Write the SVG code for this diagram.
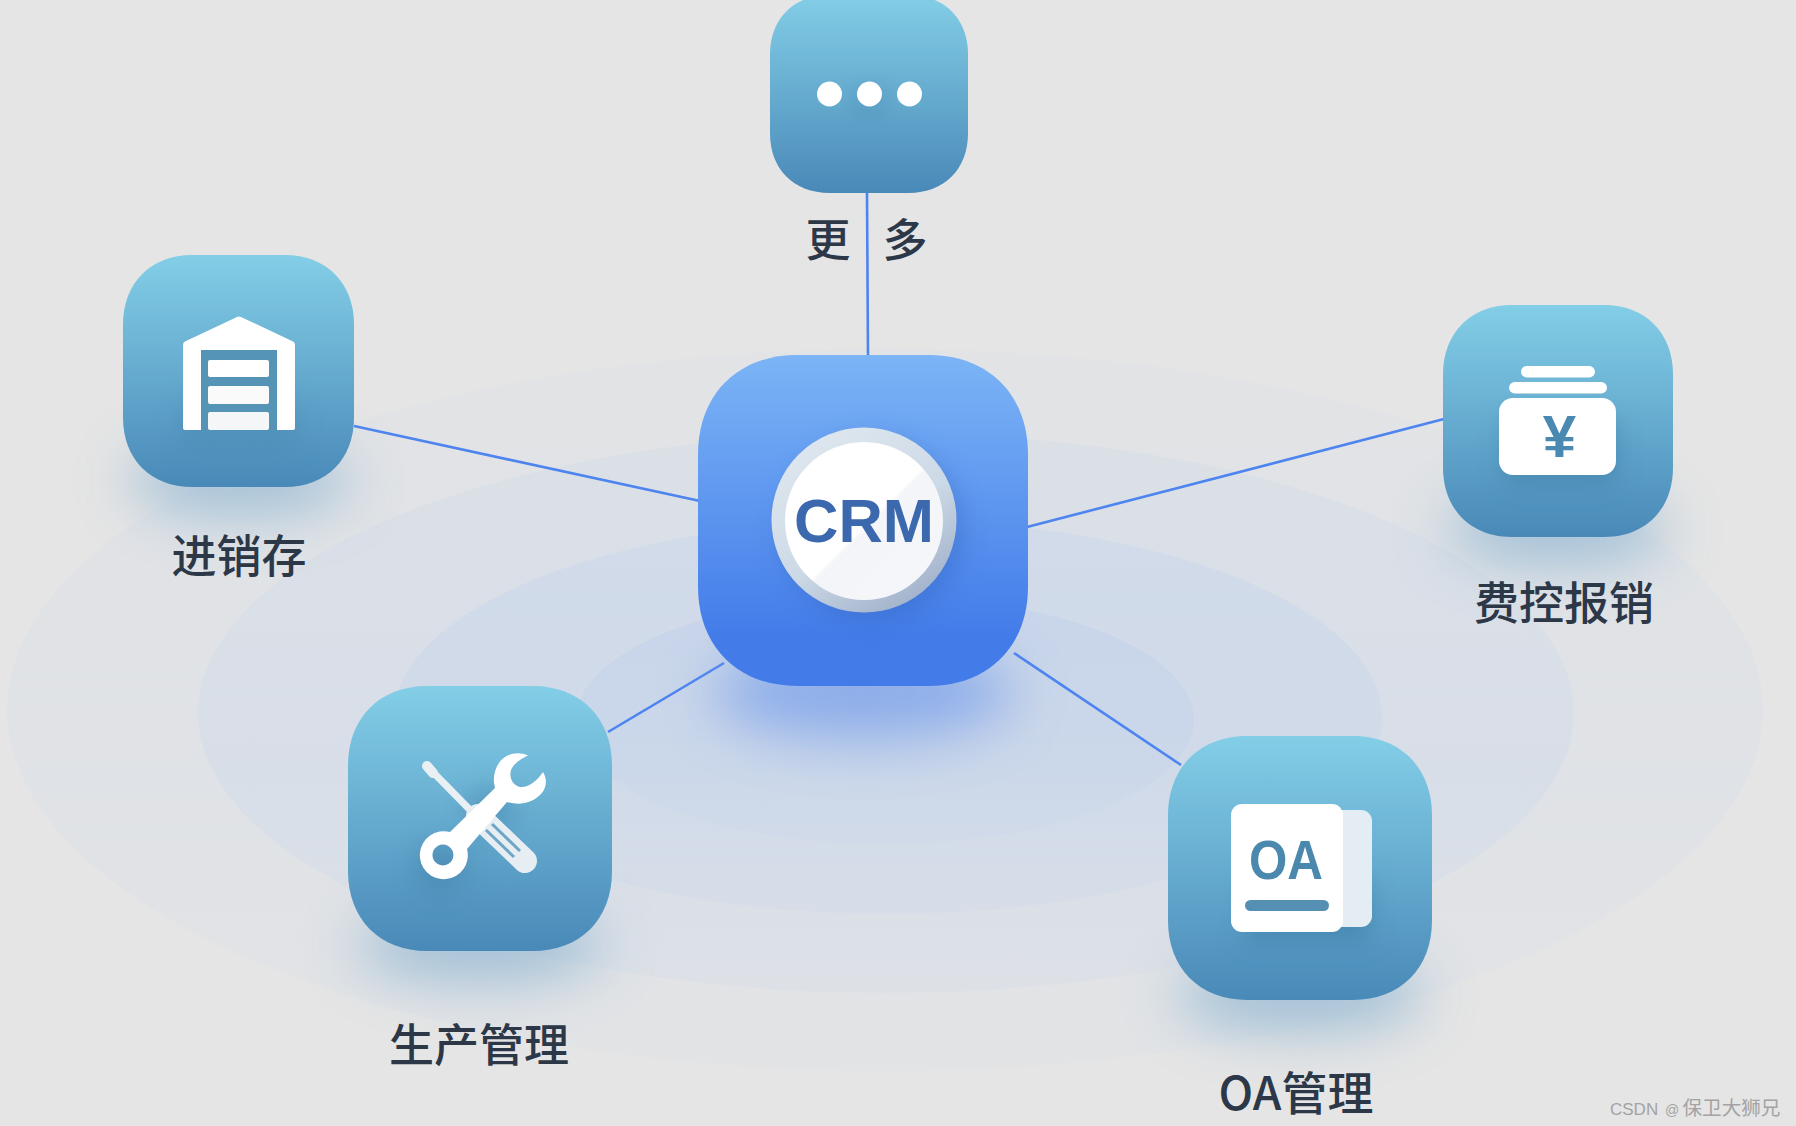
<svg xmlns="http://www.w3.org/2000/svg" xmlns:xlink="http://www.w3.org/1999/xlink" width="1796" height="1126" viewBox="0 0 1796 1126">
<style>
.lbl{font-family:"Noto Sans CJK SC","Noto Sans",sans-serif;font-size:45px;font-weight:500;fill:#2c3747;text-anchor:middle}
.ico{fill:#fff}
.ln{stroke:#4d84ef;stroke-width:2.6;fill:none}
.bd{font-family:"Liberation Sans",Arial,sans-serif;font-weight:700}
.wm{fill:#a3a3a3;font-family:"Liberation Sans","Noto Sans CJK SC",sans-serif}
</style>
<defs>
<path id="sq" d="M30,0 L70,0 C88,0 100,12 100,30 L100,70 C100,88 88,100 70,100 L30,100 C12,100 0,88 0,70 L0,30 C0,12 12,0 30,0 Z"/>
<linearGradient id="tile" x1="0" y1="0" x2="0" y2="1"><stop offset="0" stop-color="#83cee7"/><stop offset="1" stop-color="#4989b8"/></linearGradient>
<linearGradient id="core" x1="0" y1="0" x2="0" y2="1"><stop offset="0" stop-color="#7cb4f6"/><stop offset="0.85" stop-color="#437ce9"/><stop offset="1" stop-color="#437ce9"/></linearGradient>
<linearGradient id="rim" x1="0.2" y1="0.1" x2="0.75" y2="0.95"><stop offset="0" stop-color="#dde6ee"/><stop offset="0.55" stop-color="#ccd9e6"/><stop offset="1" stop-color="#a3b3cc"/></linearGradient>
<linearGradient id="face" x1="0.15" y1="0.15" x2="0.85" y2="0.85"><stop offset="0.52" stop-color="#fff"/><stop offset="0.55" stop-color="#f4f5f9"/><stop offset="1" stop-color="#f5f6f9"/></linearGradient>
<linearGradient id="r1" x1="0" y1="0" x2="0" y2="1"><stop offset="0" stop-color="#b9cfee" stop-opacity="0.08"/><stop offset="0.6" stop-color="#b9cfee" stop-opacity="0.13"/><stop offset="1" stop-color="#b9cfee" stop-opacity="0.07"/></linearGradient>
<linearGradient id="r2" x1="0" y1="0" x2="0" y2="1"><stop offset="0" stop-color="#b9cfee" stop-opacity="0.14"/><stop offset="0.6" stop-color="#b9cfee" stop-opacity="0.2"/><stop offset="1" stop-color="#b9cfee" stop-opacity="0.1"/></linearGradient>
<linearGradient id="r3" x1="0" y1="0" x2="0" y2="1"><stop offset="0" stop-color="#b4cbee" stop-opacity="0.24"/><stop offset="0.6" stop-color="#b4cbee" stop-opacity="0.22"/><stop offset="1" stop-color="#b4cbee" stop-opacity="0.12"/></linearGradient>
<linearGradient id="r4" x1="0" y1="0" x2="0" y2="1"><stop offset="0" stop-color="#aec6ec" stop-opacity="0.26"/><stop offset="0.6" stop-color="#aec6ec" stop-opacity="0.16"/><stop offset="1" stop-color="#aec6ec" stop-opacity="0.07"/></linearGradient>
<filter id="b30" x="-60%" y="-100%" width="220%" height="300%"><feGaussianBlur stdDeviation="28"/></filter>
<filter id="b12" x="-50%" y="-50%" width="200%" height="200%"><feGaussianBlur stdDeviation="12"/></filter>
</defs>
<rect width="1796" height="1126" fill="#e5e5e5"/>
<g id="rings">
<ellipse cx="885" cy="710" rx="878" ry="361" fill="url(#r1)"/>
<ellipse cx="886" cy="713" rx="688" ry="280" fill="url(#r2)"/>
<ellipse cx="888" cy="717" rx="494" ry="197" fill="url(#r3)"/>
<ellipse cx="885" cy="720" rx="309" ry="124" fill="url(#r4)"/>
</g>
<g id="connectors">
<line class="ln" x1="867" y1="193" x2="868" y2="357"/>
<line class="ln" x1="354" y1="426" x2="700" y2="501"/>
<line class="ln" x1="1027" y1="527" x2="1444" y2="419"/>
<line class="ln" x1="1014" y1="653" x2="1181" y2="765"/>
<line class="ln" x1="608" y1="732" x2="724" y2="663"/>
</g>
<g id="node-crm">
<ellipse cx="863" cy="692" rx="150" ry="46" fill="#6f9aea" opacity="0.7" filter="url(#b30)"/>
<use xlink:href="#sq" href="#sq" transform="translate(698 355) scale(3.3 3.31)" fill="url(#core)"/>
<circle cx="872" cy="530" r="92" fill="#2f5fb8" opacity="0.35" filter="url(#b12)"/>
<circle cx="864" cy="520" r="92.500" fill="url(#rim)"/>
<circle cx="864" cy="521" r="79" fill="url(#face)"/>
<text class="bd" x="864" y="542" font-size="62" fill="#3c69ae" text-anchor="middle" textLength="140" lengthAdjust="spacingAndGlyphs">CRM</text>
</g>
<g id="node-more">
<use xlink:href="#sq" href="#sq" transform="translate(770 -5) scale(1.98 1.98)" fill="url(#tile)"/>
<circle cx="869" cy="101" r="14" fill="#3f7ea6" opacity="0.35" filter="url(#b12)"/>
<circle class="ico" cx="829.500" cy="94" r="12.500"/><circle class="ico" cx="869.500" cy="94" r="12.500"/><circle class="ico" cx="909.500" cy="94" r="12.500"/>
<text class="lbl" x="828" y="257">更</text>
<text class="lbl" x="905" y="257">多</text>
</g>
<g id="node-warehouse">
<ellipse cx="239" cy="480" rx="112" ry="34" fill="#8fb6d2" opacity="0.8" filter="url(#b30)"/>
<use xlink:href="#sq" href="#sq" transform="translate(123 255) scale(2.31 2.32)" fill="url(#tile)"/>
<rect x="180" y="400" width="118" height="50" fill="#4a86ae" opacity="0.4" filter="url(#b12)"/>
<path class="ico" d="M183,345 Q183,342 186,341 L237,317 Q239,316 241,317 L292,341 Q295,342 295,345 L295,428 Q295,430 293,430 L185,430 Q183,430 183,428 Z"/>
<rect x="201" y="350" width="76" height="80" fill="#5593b7"/>
<rect class="ico" x="208" y="360" width="61" height="17" rx="2"/>
<rect x="208" y="386" width="61" height="18" rx="2" fill="#fafafb"/>
<rect x="208" y="412" width="61" height="18" rx="2" fill="#f5f6f8"/>
<text class="lbl" x="239" y="573">进销存</text>
</g>
<g id="node-fee">
<ellipse cx="1558" cy="530" rx="112" ry="34" fill="#8fb6d2" opacity="0.8" filter="url(#b30)"/>
<use xlink:href="#sq" href="#sq" transform="translate(1443 305) scale(2.3 2.32)" fill="url(#tile)"/>
<rect x="1503" y="420" width="115" height="65" rx="12" fill="#3e7ba3" opacity="0.5" filter="url(#b12)"/>
<rect class="ico" x="1521" y="366" width="74" height="11.500" rx="5.700"/>
<rect class="ico" x="1509" y="382" width="98" height="11.500" rx="5.700"/>
<rect class="ico" x="1499" y="398" width="117" height="77" rx="14"/>
<text class="bd" x="1559.500" y="457" font-size="60" fill="#4a8ab2" text-anchor="middle">¥</text>
<text class="lbl" x="1564" y="620">费控报销</text>
</g>
<g id="node-tools">
<ellipse cx="480" cy="945" rx="125" ry="36" fill="#8fb6d2" opacity="0.8" filter="url(#b30)"/>
<use xlink:href="#sq" href="#sq" transform="translate(348 686) scale(2.64 2.65)" fill="url(#tile)"/>
<circle cx="440" cy="868" r="26" fill="#3f7ea6" opacity="0.45" filter="url(#b12)"/>
<circle cx="490" cy="810" r="24" fill="#3f7ea6" opacity="0.4" filter="url(#b12)"/>
<path d="M428,767 L474,814" stroke="#e9f0f4" stroke-width="7" fill="none"/>
<path d="M427,766 L433,773" stroke="#e9f0f4" stroke-width="10" stroke-linecap="round" fill="none"/>
<path d="M478,816 L525,861" stroke="#e6eef3" stroke-width="24" stroke-linecap="round" fill="none"/>
<path d="M492,824 L520,851 M486,830 L514,857" stroke="#6fa6c5" stroke-width="3" fill="none"/>
<path class="ico" fill-rule="evenodd" d="M528,755.500 C520,752 511,753 505,757 C497,762 493,773 494,783 L495,788 L450,832 A24,24 0 1 0 467,849 L507,802 C520,806 532,803 541,794 C546,789 548,780 543,772 C537,781 528,788 520,787 C512,785 509,777 511,770 C514,763 521,759 528,755.500 Z M443,844.500 A10.500,10.500 0 1 1 442.900,844.500 Z"/>
<text class="lbl" x="479" y="1062">生产管理</text>
</g>
<g id="node-oa">
<ellipse cx="1300" cy="995" rx="125" ry="36" fill="#8fb6d2" opacity="0.8" filter="url(#b30)"/>
<use xlink:href="#sq" href="#sq" transform="translate(1168 736) scale(2.64 2.64)" fill="url(#tile)"/>
<rect x="1245" y="880" width="125" height="62" fill="#3e7ba3" opacity="0.55" filter="url(#b12)"/>
<rect x="1327" y="810" width="45" height="117" rx="11" fill="#e3edf3"/>
<rect class="ico" x="1231" y="804" width="112" height="128" rx="11"/>
<text class="bd" x="1286" y="879" font-size="56" fill="#4a88ae" text-anchor="middle" textLength="74" lengthAdjust="spacingAndGlyphs">OA</text>
<rect x="1245" y="900" width="84" height="11" rx="5.500" fill="#5590b4"/>
<text class="lbl" x="1296" y="1110" style="font-size:46px">OA管理</text>
</g>
<text id="watermark" class="wm" y="1114.500"><tspan x="1610" font-size="17">CSDN</tspan><tspan x="1665" font-size="14">@</tspan><tspan x="1682.500" font-size="19.600">保卫大狮兄</tspan></text>
</svg>
